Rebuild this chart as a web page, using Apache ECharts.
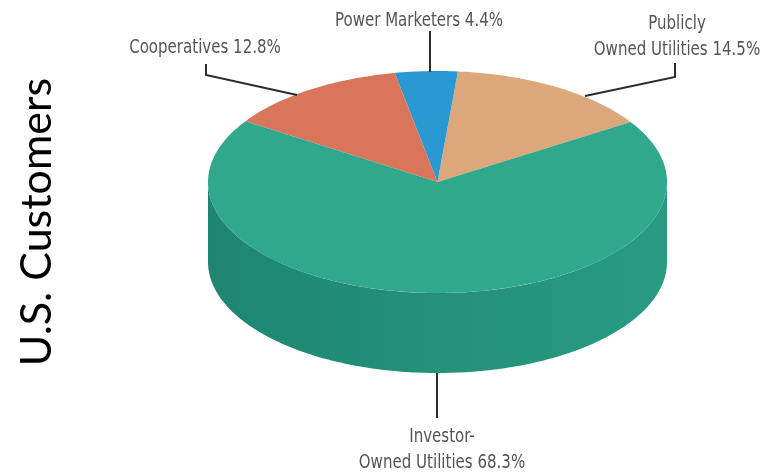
<!DOCTYPE html>
<html>
<head>
<meta charset="utf-8">
<script src="https://cdn.jsdelivr.net/npm/echarts@6/dist/echarts.min.js"></script>
<style>
  html, body { margin: 0; padding: 0; background: #fff; }
  #chart { width: 778px; height: 473px; }
</style>
</head>
<body>
<div id="chart"></div>
<script>
!(function (window) {
    const { echarts } = window;

    // data
    const categories = ['Publicly Owned Utilities', 'Power Marketers', 'Cooperatives', 'Investor-Owned Utilities'];
    const shares = [14.5, 4.4, 12.8, 68.3];
    const labelLines = [['Publicly', 'Owned Utilities'], ['Power Marketers'], ['Cooperatives'], ['Investor-', 'Owned Utilities']];
    const axisTitle = 'U.S. Customers';

    // look
    const topColors = ['#dca87b', '#2a98d2', '#d9755b', '#2fa88c'];
    // wall gradient left -> middle -> right
    const sideColors = [
        ['#b8855a', '#c48f62', '#cc9868'],
        ['#1a74a6', '#1f7fb4', '#2388c0'],
        ['#b35840', '#bf5f46', '#c8674c'],
        ['#1e8570', '#24917a', '#289b82'],
    ];
    const pie = { cx: 437.5, cy: 182, rx: 229.5, ry: 111, depth: 80, startDeg: 32.7 };
    // label anchor: text centre + leader polyline (layout only)
    const labelPos = [
        { x: 677, y: 37, line: [[675, 63], [675, 77], [585, 96]] },
        { x: 419, y: 21, line: [[430, 31], [430, 72]] },
        { x: 205, y: 48, line: [[206, 64], [206, 75], [297, 95]] },
        { x: 442, y: 450, line: [[437, 373], [437, 418]] },
    ];

    const total = shares.reduce((a, b) => a + b, 0);
    const starts = [];
    let acc = 0;
    shares.forEach(v => { starts.push(acc); acc += v; });

    function pt(t, dy) {
        return [pie.cx + pie.rx * Math.cos(t), pie.cy - pie.ry * Math.sin(t) + (dy || 0)];
    }
    const rad = d => d * Math.PI / 180;

    function arc(a0, a1, dy) {
        const pts = [];
        const n = Math.max(2, Math.ceil(Math.abs(a1 - a0) / rad(1)));
        for (let i = 0; i <= n; i++) pts.push(pt(a0 + (a1 - a0) * i / n, dy));
        return pts;
    }

    function renderItem(params, api) {
        const i = params.dataIndex;
        const v = api.value(0);
        const a0 = rad(pie.startDeg + starts[i] / total * 360);
        const a1 = a0 + rad(v / total * 360);
        const children = [];

        // front wall: visible part lies where sin(t) < 0, i.e. t in (PI, 2PI) mod 2PI
        for (let k = -1; k <= 1; k++) {
            const lo = Math.max(a0, Math.PI + k * 2 * Math.PI);
            const hi = Math.min(a1, 2 * Math.PI + k * 2 * Math.PI);
            if (hi > lo) {
                const topEdge = arc(lo, hi, 0);
                const botEdge = arc(hi, lo, pie.depth);
                children.push({
                    type: 'polygon',
                    z2: 1,
                    shape: { points: topEdge.concat(botEdge) },
                    style: {
                        fill: new echarts.graphic.LinearGradient(pie.cx - pie.rx, 0, pie.cx + pie.rx, 0, [
                            { offset: 0, color: sideColors[i][0] },
                            { offset: 0.5, color: sideColors[i][1] },
                            { offset: 1, color: sideColors[i][2] },
                        ], true),
                    },
                });
            }
        }

        // top face
        children.push({
            type: 'polygon',
            z2: 2,
            shape: { points: [[pie.cx, pie.cy]].concat(arc(a0, a1, 0)) },
            style: { fill: topColors[i] },
        });

        // label + leader
        const lp = labelPos[i];
        const lines = labelLines[i].slice();
        lines[lines.length - 1] += ` ${v}%`;
        children.push({
            type: 'polyline',
            z2: 3,
            shape: { points: lp.line },
            style: { stroke: '#2b2b2b', lineWidth: 2, fill: null },
        });
        children.push({
            type: 'text',
            z2: 3,
            x: lp.x,
            y: lp.y,
            scaleX: 0.88,
            style: {
                text: lines.join('\n'),
                fill: '#555',
                font: '19px "DejaVu Sans Condensed", sans-serif',
                align: 'center',
                verticalAlign: 'middle',
                lineHeight: 26,
            },
        });

        return { type: 'group', children };
    }

    const chart = echarts.init(document.getElementById('chart'));
    chart.setOption({
        animation: false,
        graphic: [{
            type: 'text',
            x: 37,
            y: 222,
            rotation: Math.PI / 2,
            style: {
                text: axisTitle,
                fill: '#000',
                font: '43px Lato, "Open Sans", sans-serif',
                align: 'center',
                verticalAlign: 'middle',
            },
        }],
        series: [{
            type: 'custom',
            coordinateSystem: 'none',
            renderItem,
            data: shares.map((v, i) => ({ value: [v], name: categories[i] })),
        }],
    });
}(window));
</script>
</body>
</html>
